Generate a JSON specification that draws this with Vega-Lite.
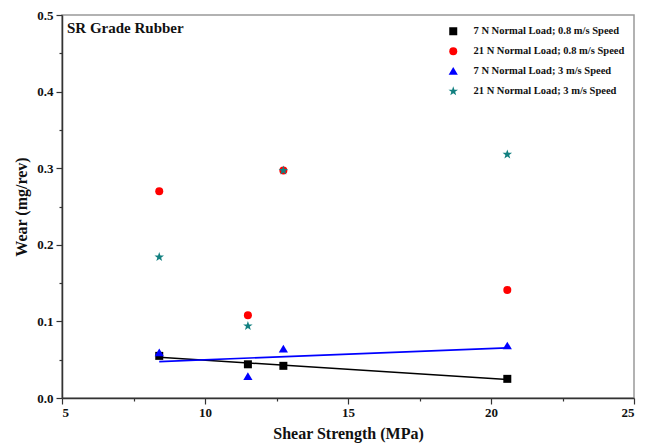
{
  "$schema": "https://vega.github.io/schema/vega-lite/v6.json",
  "width": 572,
  "height": 383,
  "autosize": {"type": "none"},
  "padding": {"left": 62, "top": 15, "right": 15, "bottom": 47},
  "background": "white",
  "title": {
    "text": "SR Grade Rubber",
    "anchor": "start",
    "frame": "group",
    "orient": "top",
    "offset": -27,
    "dx": 5,
    "font": "Liberation Serif",
    "fontSize": 15,
    "fontWeight": "bold",
    "color": "#111"
  },
  "config": {
    "view": {"stroke": "#999", "strokeWidth": 1.5},
    "font": "Liberation Serif",
    "axis": {
      "grid": false,
      "domainColor": "#333",
      "domainWidth": 1.5,
      "tickColor": "#333",
      "tickWidth": 1.2,
      "labelFont": "Liberation Serif",
      "labelFontWeight": "bold",
      "labelFontSize": 13,
      "labelColor": "#111",
      "titleFont": "Liberation Serif",
      "titleFontWeight": "bold",
      "titleFontSize": 16,
      "titleColor": "#111"
    }
  },
  "data": {
    "values": [
      {"x": 8.4, "wear": 0.055, "series": "7 N Normal Load; 0.8 m/s Speed"},
      {"x": 11.5, "wear": 0.044, "series": "7 N Normal Load; 0.8 m/s Speed"},
      {"x": 12.74, "wear": 0.042, "series": "7 N Normal Load; 0.8 m/s Speed"},
      {"x": 20.57, "wear": 0.025, "series": "7 N Normal Load; 0.8 m/s Speed"},
      {"x": 8.4, "wear": 0.27, "series": "21 N Normal Load; 0.8 m/s Speed"},
      {"x": 11.5, "wear": 0.108, "series": "21 N Normal Load; 0.8 m/s Speed"},
      {"x": 12.74, "wear": 0.297, "series": "21 N Normal Load; 0.8 m/s Speed"},
      {"x": 20.57, "wear": 0.141, "series": "21 N Normal Load; 0.8 m/s Speed"},
      {"x": 8.4, "wear": 0.059, "series": "7 N Normal Load; 3 m/s Speed"},
      {"x": 11.5, "wear": 0.028, "series": "7 N Normal Load; 3 m/s Speed"},
      {"x": 12.74, "wear": 0.064, "series": "7 N Normal Load; 3 m/s Speed"},
      {"x": 20.57, "wear": 0.068, "series": "7 N Normal Load; 3 m/s Speed"},
      {"x": 8.4, "wear": 0.184, "series": "21 N Normal Load; 3 m/s Speed"},
      {"x": 11.5, "wear": 0.094, "series": "21 N Normal Load; 3 m/s Speed"},
      {"x": 12.74, "wear": 0.297, "series": "21 N Normal Load; 3 m/s Speed"},
      {"x": 20.57, "wear": 0.318, "series": "21 N Normal Load; 3 m/s Speed"}
    ]
  },
  "encoding": {
    "x": {
      "field": "x",
      "type": "quantitative",
      "scale": {"domain": [5, 25], "nice": false, "zero": false},
      "axis": {
        "title": "Shear Strength (MPa)",
        "values": [5, 7.5, 10, 12.5, 15, 17.5, 20, 22.5, 25],
        "labelExpr": "datum.value % 5 == 0 ? format(datum.value, 'd') : ''",
        "tickSize": {"condition": {"test": "datum.value % 5 != 0", "value": 3}, "value": 6},
        "labelPadding": 2,
        "titlePadding": 6
      }
    },
    "y": {
      "field": "wear",
      "type": "quantitative",
      "scale": {"domain": [0, 0.5], "nice": false},
      "axis": {
        "title": "Wear (mg/rev)",
        "values": [0, 0.05, 0.1, 0.15, 0.2, 0.25, 0.3, 0.35, 0.4, 0.45, 0.5],
        "labelExpr": "round(datum.value * 100) % 10 == 0 ? format(datum.value, '.1f') : ''",
        "tickSize": {"condition": {"test": "round(datum.value * 100) % 10 != 0", "value": 3}, "value": 6},
        "labelPadding": 3,
        "titlePadding": 7
      }
    }
  },
  "layer": [
    {
      "transform": [
        {"filter": "datum.series == '7 N Normal Load; 0.8 m/s Speed'"},
        {"regression": "wear", "on": "x"}
      ],
      "mark": {"type": "line", "color": "#000000", "strokeWidth": 1.6}
    },
    {
      "transform": [
        {"filter": "datum.series == '7 N Normal Load; 3 m/s Speed'"},
        {"regression": "wear", "on": "x"}
      ],
      "mark": {"type": "line", "color": "#0000ff", "strokeWidth": 1.6}
    },
    {
      "mark": {"type": "point", "filled": true, "opacity": 1, "size": 64},
      "encoding": {
        "color": {
          "field": "series",
          "type": "nominal",
          "sort": null,
          "scale": {
            "domain": ["7 N Normal Load; 0.8 m/s Speed", "21 N Normal Load; 0.8 m/s Speed", "7 N Normal Load; 3 m/s Speed", "21 N Normal Load; 3 m/s Speed"],
            "range": ["#000000", "#ff0000", "#0000ff", "#128080"]
          },
          "legend": {
            "title": null,
            "orient": "none",
            "legendX": 386,
            "legendY": 11,
            "padding": 0,
            "labelFont": "Liberation Serif",
            "labelFontWeight": "bold",
            "labelFontSize": 10.5,
            "labelColor": "#111",
            "labelOffset": 15,
            "rowPadding": 9,
            "symbolSize": 64,
            "symbolStrokeWidth": 0
          }
        },
        "shape": {
          "field": "series",
          "type": "nominal",
          "sort": null,
          "scale": {
            "domain": ["7 N Normal Load; 0.8 m/s Speed", "21 N Normal Load; 0.8 m/s Speed", "7 N Normal Load; 3 m/s Speed", "21 N Normal Load; 3 m/s Speed"],
            "range": ["square", "circle", "M0,-1.05L1.15,0.85L-1.15,0.85Z", "M0,-1.25L0.294,-0.405L1.189,-0.386L0.475,0.155L0.735,1.011L0,0.5L-0.735,1.011L-0.475,0.155L-1.189,-0.386L-0.294,-0.405Z"]
          }
        }
      }
    }
  ]
}
